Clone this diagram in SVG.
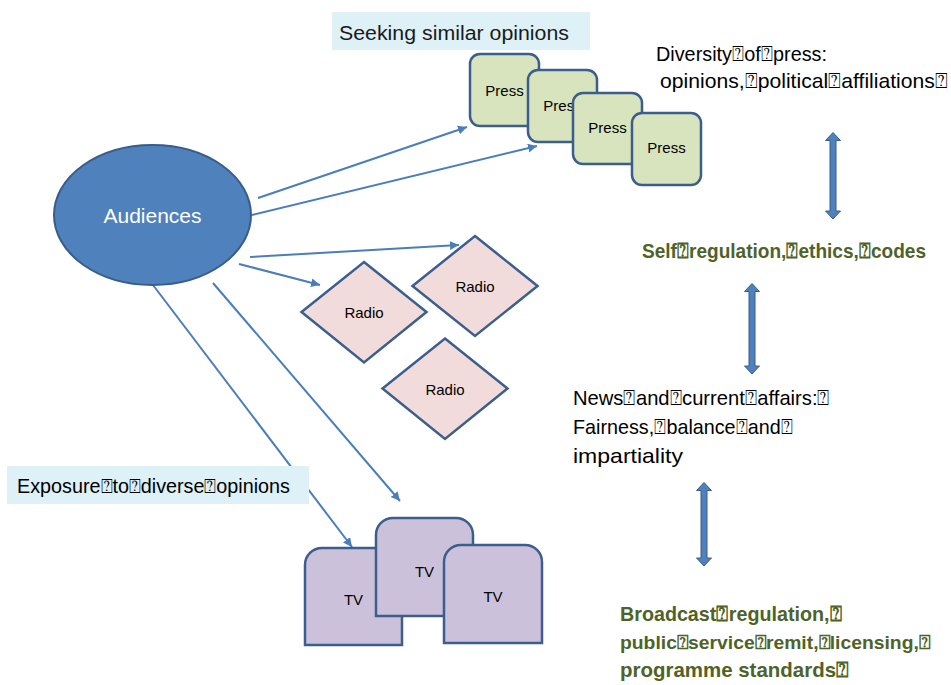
<svg xmlns="http://www.w3.org/2000/svg" width="951" height="685" viewBox="0 0 951 685">
  <style>
    text { font-family: "Liberation Sans", Arial, sans-serif; }
    .edge { fill: none; stroke: #4A7EBB; stroke-width: 2; }
    .press { fill: #D7E4BD; stroke: #3B5E8C; stroke-width: 2.5; }
    .radio { fill: #F2DCDB; stroke: #3B5E8C; stroke-width: 2.5; }
    .tv { fill: #CCC1DA; stroke: #3B5E8C; stroke-width: 2.5; }
    .lbl { font-size: 15px; fill: #000; text-anchor: middle; }
    .note { font-size: 21px; fill: #000; }
    .green { font-size: 20.5px; font-weight: bold; fill: #4F6228; }
    .dbl { fill: #4F81BD; stroke: #385D8A; stroke-width: 1; }
    .banner { fill: #DDF1F7; }
  </style>
  <defs>
    <marker id="arrow" markerUnits="userSpaceOnUse" markerWidth="10" markerHeight="10" refX="9" refY="4.5" orient="auto">
      <path d="M0,0 L9,4.5 L0,9 Z" fill="#4A7EBB"/>
    </marker>
  </defs>

  <!-- connectors from the audience node -->
  <g id="connectors">
    <line class="edge" x1="258" y1="198" x2="467" y2="127" marker-end="url(#arrow)"/>
    <line class="edge" x1="252" y1="215" x2="537" y2="146" marker-end="url(#arrow)"/>
    <line class="edge" x1="250" y1="257" x2="459" y2="245" marker-end="url(#arrow)"/>
    <line class="edge" x1="239" y1="264" x2="320" y2="285" marker-end="url(#arrow)"/>
    <line class="edge" x1="213" y1="283" x2="400" y2="501" marker-end="url(#arrow)"/>
    <line class="edge" x1="153" y1="285" x2="352" y2="547" marker-end="url(#arrow)"/>
  </g>

  <g id="audiences">
    <ellipse cx="152.5" cy="215" rx="98.5" ry="70" fill="#4F81BD" stroke="#385D8A" stroke-width="2"/>
    <text x="152.5" y="223" font-size="21" fill="#FFFFFF" text-anchor="middle">Audiences</text>
  </g>

  <!-- press stack -->
  <g id="press1">
    <rect class="press" x="470" y="54" width="69" height="72" rx="10"/>
    <text class="lbl" x="504.5" y="96">Press</text>
  </g>
  <g id="press2">
    <rect class="press" x="528" y="70" width="69" height="72" rx="10"/>
    <text class="lbl" x="562.5" y="111">Press</text>
  </g>
  <g id="press3">
    <rect class="press" x="573" y="93" width="69" height="71" rx="10"/>
    <text class="lbl" x="607.5" y="133">Press</text>
  </g>
  <g id="press4">
    <rect class="press" x="632" y="113" width="69" height="72" rx="10"/>
    <text class="lbl" x="666.5" y="153">Press</text>
  </g>

  <!-- radio diamonds -->
  <g id="radio1">
    <polygon class="radio" points="364,262 426.5,312 364,362.5 301.5,312"/>
    <text class="lbl" x="364" y="318" font-size="16">Radio</text>
  </g>
  <g id="radio2">
    <polygon class="radio" points="475,236 537.5,286 475,336 412.5,286"/>
    <text class="lbl" x="475" y="292" font-size="16">Radio</text>
  </g>
  <g id="radio3">
    <polygon class="radio" points="445,338.5 507.5,388.5 445,439 382.5,388.5"/>
    <text class="lbl" x="445" y="395" font-size="16">Radio</text>
  </g>

  <!-- television blocks -->
  <g id="tv1">
    <path class="tv" d="M305,645 V565 A17,17 0 0 1 322,548 H385 A17,17 0 0 1 402,565 V645 Z"/>
    <text class="lbl" x="353.5" y="605">TV</text>
  </g>
  <g id="tv2">
    <path class="tv" d="M376,616 V535 A17,17 0 0 1 393,518 H456 A17,17 0 0 1 473,535 V616 Z"/>
    <text class="lbl" x="424.5" y="577">TV</text>
  </g>
  <g id="tv3">
    <path class="tv" d="M444,643 V562 A17,17 0 0 1 461,545 H525 A17,17 0 0 1 542,562 V643 Z"/>
    <text class="lbl" x="493" y="602">TV</text>
  </g>

  <!-- banners -->
  <g id="seeking">
    <rect class="banner" x="332" y="12" width="258" height="38"/>
    <text x="339" y="40" font-size="20" fill="#1a1a1a" textLength="230" lengthAdjust="spacingAndGlyphs">Seeking similar opinions</text>
  </g>
  <g id="exposure">
    <rect class="banner" x="7" y="466" width="302" height="38"/>
    <text x="17" y="493" font-size="20" fill="#000" textLength="273" lengthAdjust="spacingAndGlyphs">Exposure⍰to⍰diverse⍰opinions</text>
  </g>

  <!-- regulation notes -->
  <g id="press-diversity">
    <text class="note" x="656" y="61" textLength="171" lengthAdjust="spacingAndGlyphs">Diversity⍰of⍰press:</text>
    <text class="note" x="660" y="88" font-size="20" textLength="288" lengthAdjust="spacingAndGlyphs">opinions,⍰political⍰affiliations⍰</text>
  </g>
  <g id="self-regulation">
    <text class="green" x="642" y="258" textLength="284" lengthAdjust="spacingAndGlyphs">Self⍰regulation,⍰ethics,⍰codes</text>
  </g>
  <g id="news">
    <text class="note" x="573" y="405" textLength="257" lengthAdjust="spacingAndGlyphs">News⍰and⍰current⍰affairs:⍰</text>
    <text class="note" x="573" y="434" textLength="220" lengthAdjust="spacingAndGlyphs">Fairness,⍰balance⍰and⍰</text>
    <text class="note" x="573" y="463" textLength="110" lengthAdjust="spacingAndGlyphs">impartiality</text>
  </g>
  <g id="broadcast">
    <text class="green" x="620" y="621" textLength="222" lengthAdjust="spacingAndGlyphs">Broadcast⍰regulation,⍰</text>
    <text class="green" x="620" y="649" style="font-size:19px" textLength="310" lengthAdjust="spacingAndGlyphs">public⍰service⍰remit,⍰licensing,⍰</text>
    <text class="green" x="620" y="677" textLength="229" lengthAdjust="spacingAndGlyphs">programme standards⍰</text>
  </g>

  <!-- two-way links between the notes -->
  <g id="links">
    <path class="dbl" d="M833,132.5 L840.5,140.5 L836,140.5 L836,211 L840.5,211 L833,219 L825.5,211 L830,211 L830,140.5 L825.5,140.5 Z"/>
    <path class="dbl" d="M752,283.5 L759.5,291.5 L755,291.5 L755,366 L759.5,366 L752,374 L744.5,366 L749,366 L749,291.5 L744.5,291.5 Z"/>
    <path class="dbl" d="M704,482.5 L711.5,490.5 L707,490.5 L707,558 L711.5,558 L704,566 L696.5,558 L701,558 L701,490.5 L696.5,490.5 Z"/>
  </g>
</svg>
